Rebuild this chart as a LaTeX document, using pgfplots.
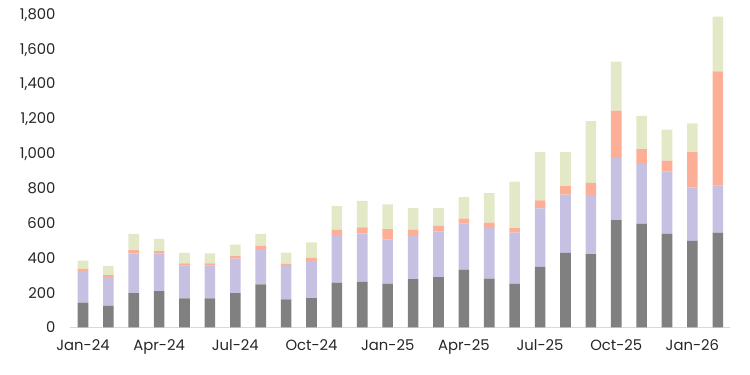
\documentclass[border=0pt]{standalone}
\usepackage{pgfplots}
\pgfplotsset{compat=1.18}
\usepackage{fontspec}
\setmainfont{Poppins}
\definecolor{cgray}{RGB}{128,128,128}
\definecolor{cpurple}{RGB}{198,192,227}
\definecolor{corange}{RGB}{253,174,151}
\definecolor{cgreen}{RGB}{227,233,198}
\definecolor{caxis}{RGB}{217,217,217}
\begin{document}
\begin{tikzpicture}
\begin{axis}[
  name=ax,
  scale only axis,
  width=660bp, height=312.3bp,
  xmin=-0.51, xmax=25.48,
  ymin=0, ymax=1800,
  ybar stacked,
  bar width=10.6bp,
  axis x line*=bottom,
  axis y line*=left,
  x axis line style={draw=caxis, line width=0.8pt},
  y axis line style={draw=none},
  major tick length=0pt,
  xtick={0,3,6,9,12,15,18,21,24},
  xticklabels={Jan-24,Apr-24,Jul-24,Oct-24,Jan-25,Apr-25,Jul-25,Oct-25,Jan-26},
  ytick={0,200,...,1800},
  /pgf/number format/assume math mode=true,
  /pgf/number format/1000 sep={,},
  tick label style={font=\fontsize{14.8bp}{17bp}\selectfont, text=black!85},
  yticklabel style={xshift=-11bp},
  xticklabel style={yshift=-9bp},
  clip=false,
]
\addplot[fill=cgray, draw=none] coordinates {
(0,142)(1,124)(2,197)(3,209)(4,166)(5,166)(6,197)(7,248)(8,161)(9,168)
(10,258)(11,262)(12,252)(13,277)(14,289)(15,332)(16,280)(17,252)(18,348)(19,429)
(20,422)(21,617)(22,598)(23,538)(24,498)(25,545)};
\addplot[fill=cpurple, draw=none] coordinates {
(0,182)(1,165)(2,229)(3,217)(4,190)(5,190)(6,199)(7,203)(8,191)(9,215)
(10,275)(11,280)(12,254)(13,248)(14,262)(15,266)(16,291)(17,294)(18,338)(19,335)
(20,340)(21,360)(22,344)(23,359)(24,309)(25,271)};
\addplot[fill=corange, draw=none] coordinates {
(0,13)(1,12)(2,19)(3,13)(4,13)(5,12)(6,14)(7,18)(8,13)(9,17)
(10,30)(11,34)(12,60)(13,38)(14,33)(15,29)(16,33)(17,26)(18,46)(19,50)
(20,70)(21,272)(22,85)(23,63)(24,203)(25,659)};
\addplot[fill=cgreen, draw=none] coordinates {
(0,48)(1,53)(2,93)(3,70)(4,60)(5,58)(6,67)(7,69)(8,66)(9,89)
(10,136)(11,152)(12,143)(13,124)(14,103)(15,123)(16,170)(17,268)(18,278)(19,196)
(20,356)(21,282)(22,192)(23,179)(24,166)(25,316)};
\end{axis}
\path (ax.south west) ++(-70bp,-47.7bp) rectangle ++(750bp,375bp);
\end{tikzpicture}
\end{document}
